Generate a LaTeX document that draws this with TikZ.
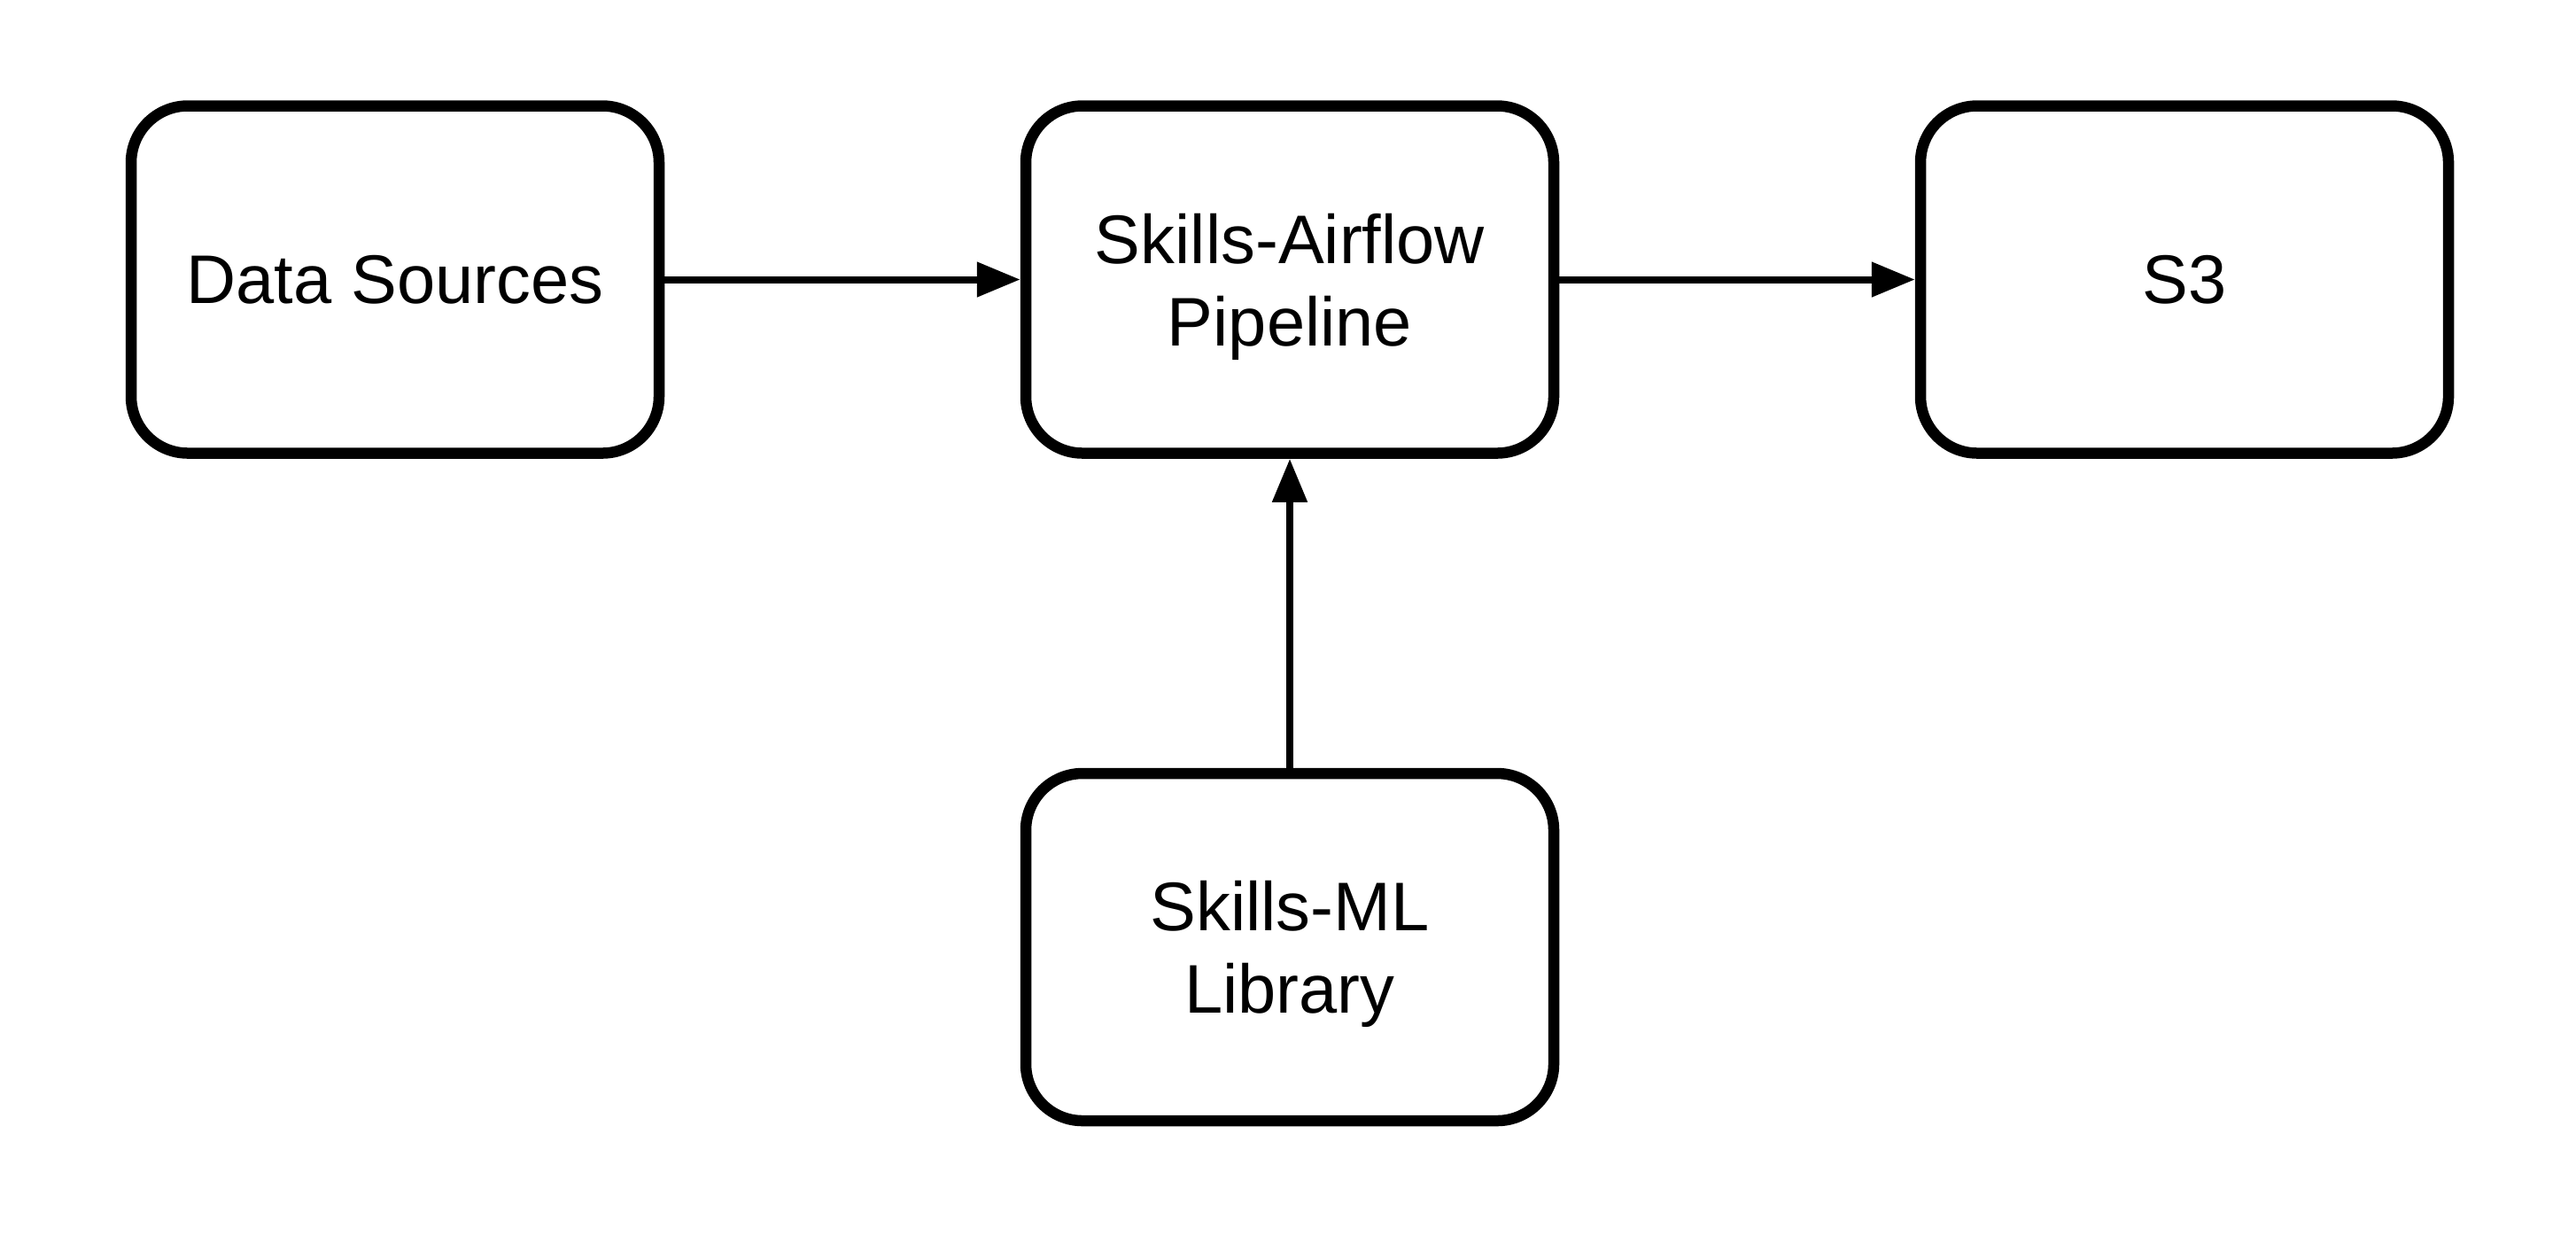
\documentclass[tikz,border=0pt]{standalone}
\usepackage{fontspec}
\setmainfont{Liberation Sans}
\usetikzlibrary{positioning,arrows.meta}
\begin{document}
\begin{tikzpicture}[->,>={Triangle[length=4.9mm,width=3.8mm]},line width=0.8mm,node distance=40.15mm,main node/.style={rectangle,rounded corners=6.4mm,draw,line width=1.25mm,minimum width=59.6mm,minimum height=39.2mm,align=center,text depth=0pt,font=\fontsize{22.1pt}{26.5pt}\selectfont}]
		\useasboundingbox (0,0) rectangle (290.8mm,-139.3mm);
		\node[main node] (1) at (44.6mm,-31.55mm) {Data Sources};
		\node[main node] (2) [right=of 1] {Skills-Airflow\\Pipeline};
		\node[main node] (3) [right=of 2] {S3};
		\node[main node] (4) [below=34.9mm of 2] {Skills-ML\\Library};
		
		\path
		(1) edge (2)
		(2) edge (3)
		(4) edge (2)
		;
		\end{tikzpicture}
\end{document}
